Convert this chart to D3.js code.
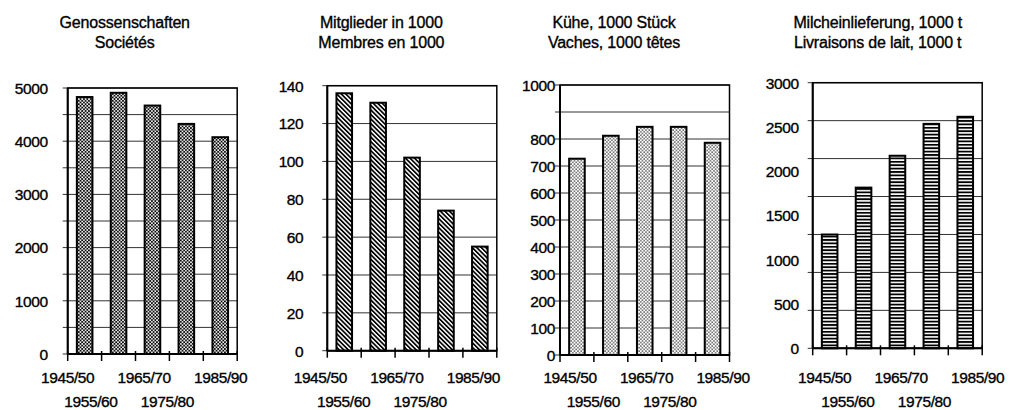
<!DOCTYPE html>
<html>
<head>
<meta charset="utf-8">
<script src="https://cdn.jsdelivr.net/npm/d3@7"></script>
<style>
  body { margin: 0; background: #fff; }
  text { font-family: "Liberation Sans", Arial, Helvetica, sans-serif; fill: #000; stroke: #000; stroke-width: 0.35px; }
</style>
</head>
<body>
<svg id="chart" width="1014" height="410"></svg>
<script>
// periods shared by all four panels
const periods = ["1945/50", "1955/60", "1965/70", "1975/80", "1985/90"];

// values
const societies = [4830, 4910, 4670, 4325, 4075];
const members = [136, 131, 102, 74, 55];
const cows = [727, 812, 845, 845, 786];
const milk = [1285, 1815, 2175, 2535, 2615];

// titles (two lines, German / French)
const titleSocieties = ["Genossenschaften", "Sociétés"];
const titleMembers = ["Mitglieder in 1000", "Membres en 1000"];
const titleCows = ["Kühe, 1000 Stück", "Vaches, 1000 têtes"];
const titleMilk = ["Milcheinlieferung, 1000 t", "Livraisons de lait, 1000 t"];

// tick labels as printed
const ticksSocieties = [0, 1000, 2000, 3000, 4000, 5000];
const ticksMembers = [0, 20, 40, 60, 80, 100, 120, 140];
const ticksCows = [0, 100, 200, 300, 400, 500, 600, 700, 800, 1000];
const ticksMilk = [0, 500, 1000, 1500, 2000, 2500, 3000];

// layout of each panel
const layout = [
  { left: 67.7, top: 88, bottom: 354, labelGap: 20, xShift: 0, titleX: 57, pattern: "checker",
    max: 5000, grid: d3.range(0, 5001, 500) },
  { left: 327.3, top: 85.7, bottom: 350.7, labelGap: 24, xShift: -7, titleX: 54, pattern: "hatch",
    max: 140, grid: d3.range(0, 141, 20) },
  { left: 560, top: 85, bottom: 355, labelGap: 5, xShift: 10, titleX: 54, pattern: "dots",
    max: 1000, grid: d3.range(0, 1001, 100) },
  { left: 812.7, top: 82.7, bottom: 348.3, labelGap: 14, xShift: 12, titleX: 65, pattern: "stripes",
    max: 3000, grid: d3.range(8).map(i => 3000 * i / 7) }
];

const series = [
  { title: titleSocieties, values: societies, ticks: ticksSocieties },
  { title: titleMembers, values: members, ticks: ticksMembers },
  { title: titleCows, values: cows, ticks: ticksCows },
  { title: titleMilk, values: milk, ticks: ticksMilk }
];

const plotWidth = 169.5;
const svg = d3.select("#chart");
svg.append("rect").attr("width", 1014).attr("height", 410).attr("fill", "#fff");

// fill patterns
const defs = svg.append("defs");

var p = defs.append("pattern").attr("id", "checker")
  .attr("patternUnits", "userSpaceOnUse").attr("width", 3.4).attr("height", 3.4);
p.append("rect").attr("width", 3.4).attr("height", 3.4).attr("fill", "#000");
p.append("rect").attr("x", 0.1).attr("y", 0.1).attr("width", 1.7).attr("height", 1.7).attr("fill", "#fff");
p.append("rect").attr("x", 1.8).attr("y", 1.8).attr("width", 1.6).attr("height", 1.6).attr("fill", "#fff");

p = defs.append("pattern").attr("id", "hatch")
  .attr("patternUnits", "userSpaceOnUse").attr("width", 3.2).attr("height", 3.2)
  .attr("patternTransform", "rotate(-45)");
p.append("rect").attr("width", 3.2).attr("height", 3.2).attr("fill", "#fff");
p.append("rect").attr("width", 1.7).attr("height", 3.2).attr("fill", "#000");

p = defs.append("pattern").attr("id", "dots")
  .attr("patternUnits", "userSpaceOnUse").attr("width", 3.4).attr("height", 3.4);
p.append("rect").attr("width", 3.4).attr("height", 3.4).attr("fill", "#fff");
p.append("rect").attr("x", 0.3).attr("y", 0.3).attr("width", 1.2).attr("height", 1.2).attr("fill", "#000");
p.append("rect").attr("x", 2).attr("y", 2).attr("width", 1.2).attr("height", 1.2).attr("fill", "#000");

p = defs.append("pattern").attr("id", "stripes")
  .attr("patternUnits", "userSpaceOnUse").attr("width", 4).attr("height", 3.4);
p.append("rect").attr("width", 4).attr("height", 3.4).attr("fill", "#fff");
p.append("rect").attr("y", 0).attr("width", 4).attr("height", 1.8).attr("fill", "#000");

series.forEach(function(s, k) {
  var L = layout[k];
  var h = L.bottom - L.top;
  var g = svg.append("g").attr("transform", "translate(" + L.left + "," + L.top + ")");

  var x = d3.scaleBand().domain(periods).range([0, plotWidth])
    .paddingInner(0.54).paddingOuter(0.27);
  var y = d3.scaleLinear().domain([0, L.max]).range([h, 0]);

  // title
  var title = svg.append("text")
    .attr("text-anchor", "middle")
    .style("font-size", "16px")
    .style("letter-spacing", "-0.2px");
  title.selectAll("tspan").data(s.title).enter().append("tspan")
    .attr("x", L.left + L.titleX)
    .attr("y", function(d, i) { return 28 + i * 20; })
    .text(function(d) { return d; });

  // gridlines with small ticks out to the left
  g.selectAll("line.grid").data(L.grid).enter().append("line")
    .attr("class", "grid")
    .attr("x1", -5).attr("x2", plotWidth)
    .attr("y1", function(d) { return y(d); })
    .attr("y2", function(d) { return y(d); })
    .attr("stroke", "#333")
    .attr("stroke-width", 1);

  // y labels
  g.selectAll("text.ylab").data(s.ticks).enter().append("text")
    .attr("class", "ylab")
    .attr("x", -L.labelGap)
    .attr("y", function(d) { return y(d); })
    .attr("dy", "0.38em")
    .attr("text-anchor", "end")
    .style("font-size", "15.5px")
    .style("letter-spacing", "-0.4px")
    .text(function(d) { return d; });

  // bars
  g.selectAll("rect.bar").data(s.values).enter().append("rect")
    .attr("class", "bar")
    .attr("x", function(d, i) { return x(periods[i]); })
    .attr("y", function(d) { return y(d); })
    .attr("width", x.bandwidth())
    .attr("height", function(d) { return h - y(d); })
    .attr("fill", "url(#" + L.pattern + ")")
    .attr("stroke", "#000")
    .attr("stroke-width", 2);

  // frame
  g.append("rect")
    .attr("width", plotWidth).attr("height", h)
    .attr("fill", "none").attr("stroke", "#000").attr("stroke-width", 1.5);
  g.append("line").attr("x1", 0).attr("x2", 0).attr("y1", 0).attr("y2", h)
    .attr("stroke", "#000").attr("stroke-width", 2);
  g.append("line").attr("x1", 0).attr("x2", plotWidth).attr("y1", h).attr("y2", h)
    .attr("stroke", "#000").attr("stroke-width", 2);

  // x ticks at category boundaries
  var bounds = d3.range(periods.length + 1).map(function(i) { return i * x.step(); });
  g.selectAll("line.xtick").data(bounds).enter().append("line")
    .attr("class", "xtick")
    .attr("x1", function(d) { return d; }).attr("x2", function(d) { return d; })
    .attr("y1", h - 3).attr("y2", h + 7)
    .attr("stroke", "#000").attr("stroke-width", 1.5);

  // staggered period labels
  var xl = d3.scalePoint().domain(periods).range([L.left + L.xShift, L.left + L.xShift + 153]);
  svg.selectAll(null).data(periods).enter().append("text")
    .attr("x", function(d, i) { return xl(d) - (i % 2 ? 15 : 0); })
    .attr("y", function(d, i) { return i % 2 ? 407 : 383; })
    .attr("text-anchor", "middle")
    .style("font-size", "15.5px")
    .style("letter-spacing", "-0.4px")
    .text(function(d) { return d; });
});
</script>
</body>
</html>
